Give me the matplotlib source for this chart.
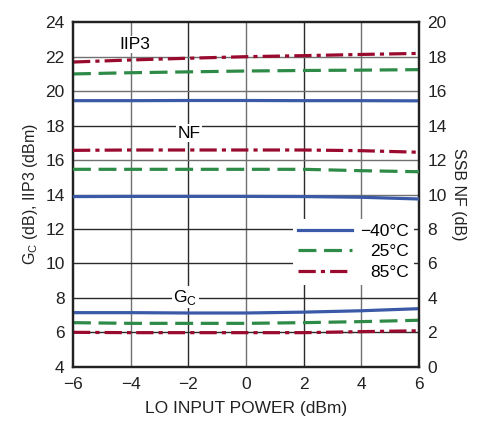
import matplotlib.pyplot as plt
import matplotlib.font_manager as fm

names = set(f.name for f in fm.fontManager.ttflist)
if "Liberation Sans Narrow" in names:
    plt.rcParams['font.family'] = ['Liberation Sans Narrow', 'DejaVu Sans']
    fs, fs_lab = 14, 13
else:
    plt.rcParams['font.family'] = ['Liberation Sans', 'DejaVu Sans']
    fs, fs_lab = 12.5, 11.5

lo_power = [-6, -4, -2, 0, 2, 4, 6]
temps = ["\u221240\u00b0C", "25\u00b0C", "85\u00b0C"]

# IIP3 (dBm), left axis
iip3_m40 = [19.44, 19.44, 19.45, 19.45, 19.44, 19.44, 19.43]
iip3_25 = [20.99, 21.06, 21.11, 21.16, 21.19, 21.21, 21.24]
iip3_85 = [21.68, 21.80, 21.90, 21.99, 22.05, 22.12, 22.18]

# SSB NF (dB), right axis
nf_m40 = [9.88, 9.89, 9.89, 9.89, 9.88, 9.84, 9.74]
nf_25 = [11.46, 11.46, 11.46, 11.46, 11.46, 11.38, 11.32]
nf_85 = [12.56, 12.58, 12.58, 12.58, 12.58, 12.54, 12.45]

# Gc (dB), left axis
gc_m40 = [7.15, 7.15, 7.13, 7.13, 7.18, 7.26, 7.38]
gc_25 = [6.57, 6.53, 6.53, 6.53, 6.57, 6.63, 6.71]
gc_85 = [6.01, 5.99, 5.99, 5.99, 5.99, 6.05, 6.10]

blue = "#3a5aa8"
green = "#2e8b47"
red = "#9a0a2f"
lw = 2.3
styles = [dict(color=blue, lw=lw, ls="-"),
          dict(color=green, lw=lw, dashes=(5.6, 2.4)),
          dict(color=red, lw=lw, dashes=(5.4, 1.6, 1.3, 1.6))]

fig = plt.figure(figsize=(4.88, 4.21), dpi=100)
ax = fig.add_axes([0.1496, 0.1283, 0.7090, 0.8194])
ax2 = ax.twinx()

# grid: some lines darker than others, as in the reference
dark, light = "#2a2a2a", "#707070"
for v, c in zip(range(-4, 6, 2), [light, dark, light, dark, light]):
    ax.axvline(v, color=c, lw=1.0, zorder=0)
for v, c in zip(range(6, 24, 2), [dark, dark, dark, dark, light, light, dark, light, light]):
    ax.axhline(v, color=c, lw=1.0, zorder=0)

lines = []
for ys, st in zip([iip3_m40, iip3_25, iip3_85], styles):
    ax.plot(lo_power, ys, zorder=3, **st)
for ys, st in zip([gc_m40, gc_25, gc_85], styles):
    l, = ax.plot(lo_power, ys, zorder=3, **st)
    lines.append(l)
for ys, st in zip([nf_m40, nf_25, nf_85], styles):
    ax2.plot(lo_power, ys, zorder=3, **st)

ax.set_xlim(-6, 6)
ax.set_ylim(4, 24)
ax2.set_ylim(0, 20)
ax.set_xticks(range(-6, 7, 2))
ax.set_yticks(range(4, 25, 2))
ax2.set_yticks(range(0, 21, 2))

for a in (ax, ax2):
    a.tick_params(labelsize=fs, colors="#222222", length=0)
    for s in a.spines.values():
        s.set_linewidth(1.6)
        s.set_color("#222222")
ax.tick_params(axis="x", pad=7)
ax.tick_params(axis="y", pad=6)
ax2.tick_params(axis="y", pad=6)

ax.set_xlabel("LO INPUT POWER (dBm)", fontsize=fs, color="#222222", labelpad=7)
ax.set_ylabel(r"G$_\mathregular{C}$ (dB), IIP3 (dBm)", fontsize=fs_lab, color="#222222", labelpad=4)
ax2.set_ylabel("SSB NF (dB)", fontsize=fs_lab, color="#222222", rotation=-90, labelpad=14)

box = dict(facecolor="white", edgecolor="none", pad=1)
ax.text(-3.85, 22.7, "IIP3", fontsize=fs, ha="center", va="center", bbox=box, zorder=4)
ax.text(-1.98, 17.55, "NF", fontsize=fs, ha="center", va="center", bbox=box, zorder=4)
ax.text(-2.1, 8.05, r"G$_\mathregular{C}$", fontsize=fs, ha="center", va="center", bbox=box, zorder=4)

leg = ax2.legend(lines, temps, loc="upper right", bbox_to_anchor=(0.985, 0.43),
                 fontsize=fs, frameon=True, handlelength=3.1, handletextpad=0.45,
                 labelspacing=0.3, borderpad=0.3, borderaxespad=0)
leg.get_frame().set_edgecolor("none")
leg.get_frame().set_facecolor("white")
leg.get_frame().set_alpha(1)
# right-align the legend labels
fig.canvas.draw()
widths = [t.get_window_extent().width for t in leg.get_texts()]
wmax = max(widths)
for t, w in zip(leg.get_texts(), widths):
    t.set_x(t.get_position()[0] + (wmax - w))
leg.set_zorder(5)

fig.savefig("out.png", dpi=100)
